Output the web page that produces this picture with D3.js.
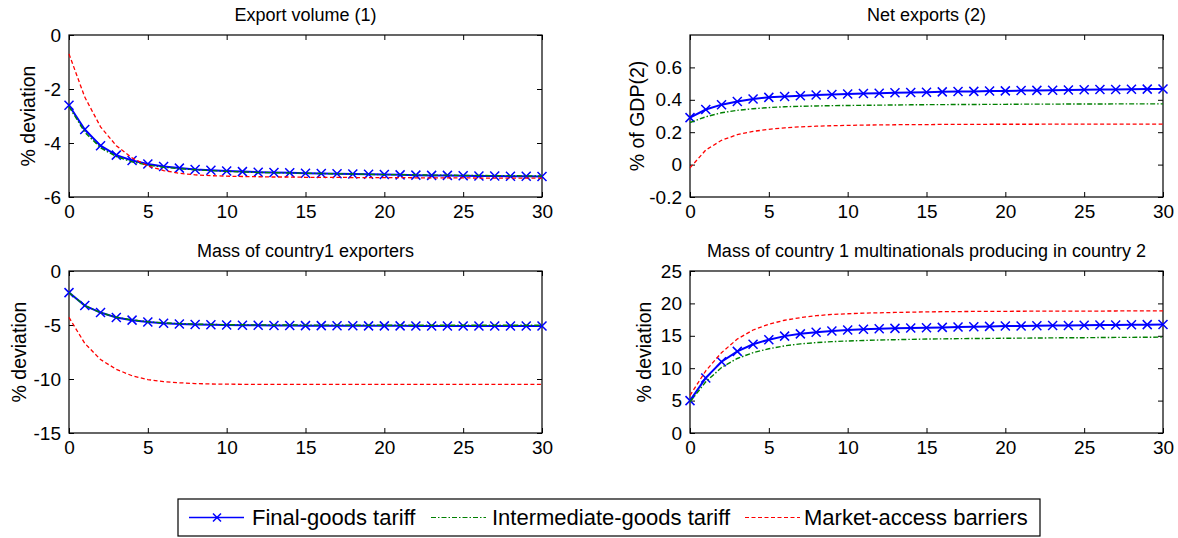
<!DOCTYPE html>
<html>
<head>
<meta charset="utf-8">
<script src="https://cdn.jsdelivr.net/npm/d3@7"></script>
<style>
    body { margin: 0; background: white; }
    text { font-family: "Liberation Sans", Arial, sans-serif; fill: black; }
</style>
</head>
<body>
<div class="chart"></div>
<script>
// periods after the shock
const periods = [0, 1, 2, 3, 4, 5, 6, 7, 8, 9, 10, 11, 12, 13, 14, 15,
    16, 17, 18, 19, 20, 21, 22, 23, 24, 25, 26, 27, 28, 29, 30];
const xTicks = [0, 5, 10, 15, 20, 25, 30];

const seriesNames = ['Final-goods tariff', 'Intermediate-goods tariff', 'Market-access barriers'];

// export volume (1)
const exportFinal = [-2.6, -3.5, -4.1, -4.45, -4.65, -4.78, -4.87, -4.93, -4.98, -5.01, -5.04,
    -5.06, -5.08, -5.09, -5.1, -5.12, -5.13, -5.14, -5.15, -5.16, -5.17,
    -5.18, -5.19, -5.2, -5.2, -5.21, -5.22, -5.22, -5.23, -5.23, -5.24];
const exportInter = [-2.65, -3.6, -4.18, -4.5, -4.7, -4.82, -4.9, -4.95, -4.99, -5.02, -5.05,
    -5.07, -5.09, -5.1, -5.11, -5.12, -5.13, -5.14, -5.15, -5.16, -5.17,
    -5.17, -5.18, -5.19, -5.19, -5.2, -5.2, -5.21, -5.21, -5.22, -5.22];
const exportMarket = [-0.7, -2.3, -3.4, -4.1, -4.55, -4.85, -5.02, -5.12, -5.18, -5.21, -5.23,
    -5.24, -5.25, -5.26, -5.26, -5.27, -5.27, -5.27, -5.28, -5.28, -5.28,
    -5.28, -5.29, -5.29, -5.29, -5.29, -5.3, -5.3, -5.3, -5.3, -5.3];
const exportTicks = [-6, -4, -2, 0];

// net exports (2)
const netFinal = [0.29, 0.34, 0.37, 0.39, 0.405, 0.415, 0.42, 0.425, 0.43, 0.433, 0.436,
    0.439, 0.441, 0.443, 0.445, 0.447, 0.449, 0.451, 0.452, 0.454, 0.455,
    0.457, 0.458, 0.459, 0.461, 0.462, 0.463, 0.464, 0.465, 0.466, 0.467];
const netInter = [0.26, 0.295, 0.32, 0.335, 0.345, 0.352, 0.357, 0.36, 0.362, 0.364, 0.365,
    0.366, 0.367, 0.368, 0.369, 0.37, 0.37, 0.371, 0.371, 0.372, 0.372,
    0.373, 0.373, 0.373, 0.374, 0.374, 0.374, 0.375, 0.375, 0.375, 0.375];
const netMarket = [-0.02, 0.09, 0.15, 0.185, 0.205, 0.218, 0.227, 0.233, 0.237, 0.24, 0.242,
    0.244, 0.245, 0.246, 0.247, 0.247, 0.248, 0.248, 0.248, 0.249, 0.249,
    0.249, 0.249, 0.25, 0.25, 0.25, 0.25, 0.25, 0.25, 0.25, 0.25];
const netTicks = [-0.2, 0, 0.2, 0.4, 0.6];

// mass of country 1 exporters
const exportersFinal = [-2.0, -3.2, -3.85, -4.3, -4.55, -4.72, -4.83, -4.9, -4.95, -4.98, -5.0,
    -5.02, -5.03, -5.04, -5.05, -5.06, -5.06, -5.07, -5.07, -5.08, -5.08,
    -5.08, -5.09, -5.09, -5.09, -5.09, -5.1, -5.1, -5.1, -5.1, -5.1];
const exportersInter = [-2.0, -3.2, -3.85, -4.28, -4.53, -4.7, -4.8, -4.87, -4.92, -4.95, -4.97,
    -4.98, -4.99, -5.0, -5.0, -5.01, -5.01, -5.01, -5.02, -5.02, -5.02,
    -5.02, -5.02, -5.03, -5.03, -5.03, -5.03, -5.03, -5.03, -5.03, -5.03];
const exportersMarket = [-4.3, -6.7, -8.2, -9.1, -9.7, -10.05, -10.25, -10.35, -10.42, -10.46, -10.48,
    -10.49, -10.5, -10.5, -10.5, -10.5, -10.5, -10.5, -10.5, -10.5, -10.5,
    -10.5, -10.5, -10.5, -10.5, -10.5, -10.5, -10.5, -10.5, -10.5, -10.5];
const exportersTicks = [-15, -10, -5, 0];

// mass of country 1 multinationals producing in country 2
const multiFinal = [5.0, 8.5, 11.0, 12.6, 13.7, 14.4, 14.95, 15.3, 15.55, 15.75, 15.9,
    16.0, 16.1, 16.15, 16.2, 16.25, 16.3, 16.35, 16.4, 16.45, 16.5,
    16.52, 16.55, 16.58, 16.6, 16.63, 16.66, 16.68, 16.7, 16.72, 16.75];
const multiInter = [4.8, 7.9, 10.1, 11.5, 12.4, 13.0, 13.45, 13.75, 13.95, 14.1, 14.2,
    14.28, 14.35, 14.4, 14.45, 14.5, 14.53, 14.56, 14.58, 14.6, 14.62,
    14.64, 14.66, 14.68, 14.7, 14.71, 14.73, 14.75, 14.76, 14.78, 14.8];
const multiMarket = [5.8, 9.6, 12.4, 14.5, 15.9, 16.8, 17.4, 17.8, 18.1, 18.3, 18.4,
    18.5, 18.55, 18.6, 18.65, 18.7, 18.72, 18.74, 18.76, 18.77, 18.78,
    18.79, 18.8, 18.8, 18.81, 18.82, 18.82, 18.83, 18.84, 18.84, 18.85];
const multiTicks = [0, 5, 10, 15, 20, 25];

const styles = [
    { color: '#0000ff', width: 2, dash: null, marker: true },
    { color: '#008000', width: 1.4, dash: '5,2,1.5,2' },
    { color: '#ff0000', width: 1.3, dash: '4,2.5' }
];

const panels = [
    { title: 'Export volume (1)', ylabel: '% deviation', series: [exportFinal, exportInter, exportMarket],
        yDomain: [-6, 0], yTicks: exportTicks, x: 69, y: 35, labelX: 28 },
    { title: 'Net exports (2)', ylabel: '% of GDP(2)', series: [netFinal, netInter, netMarket],
        yDomain: [-0.2, 0.8], yTicks: netTicks, x: 690, y: 35, labelX: 637 },
    { title: 'Mass of country1 exporters', ylabel: '% deviation', series: [exportersFinal, exportersInter, exportersMarket],
        yDomain: [-15, 0], yTicks: exportersTicks, x: 69, y: 271, labelX: 19 },
    { title: 'Mass of country 1 multinationals producing in country 2', ylabel: '% deviation',
        series: [multiFinal, multiInter, multiMarket],
        yDomain: [0, 25], yTicks: multiTicks, x: 690, y: 271, labelX: 644 }
];

const width = 473, height = 162, tickLen = 5;

const svg = d3.select('.chart')
    .append('svg')
        .attr('width', 1178)
        .attr('height', 538)

const drawX = (g, cx, cy, s) => {
    g.append('path')
        .attr('d', `M${cx - s},${cy - s}L${cx + s},${cy + s}M${cx - s},${cy + s}L${cx + s},${cy - s}`)
        .style('stroke', styles[0].color)
        .style('stroke-width', 1.5)
        .style('fill', 'none')
}

panels.forEach((p, pi) => {
    const x = d3.scaleLinear().domain([0, 30]).range([0, width]);
    const y = d3.scaleLinear().domain(p.yDomain).range([height, 0]);

    const g = svg.append('g')
        .attr('transform', `translate(${p.x}, ${p.y})`)

    g.append('clipPath')
            .attr('id', `clip${pi}`)
        .append('rect')
            .attr('x', -6)
            .attr('y', 0)
            .attr('width', width + 12)
            .attr('height', height)

    //axes with inward ticks on all four sides
    const bottom = g.append('g')
        .attr('transform', `translate(0, ${height})`)
        .call(d3.axisBottom(x).tickValues(xTicks).tickSize(-tickLen).tickPadding(8));
    const top = g.append('g')
        .call(d3.axisTop(x).tickValues(xTicks).tickSize(-tickLen).tickFormat(''));
    const left = g.append('g')
        .call(d3.axisLeft(y).tickValues(p.yTicks).tickSize(-tickLen).tickPadding(8)
            .tickFormat(d3.format('~g')));
    const right = g.append('g')
        .attr('transform', `translate(${width}, 0)`)
        .call(d3.axisRight(y).tickValues(p.yTicks).tickSize(-tickLen).tickFormat(''));

    [bottom, top, left, right].forEach((a) => {
        a.select('.domain').remove();
        a.selectAll('line').style('stroke', 'black').style('stroke-width', 1);
        a.selectAll('text')
            .style('font-size', '19px')
            .style('font-family', '"Liberation Sans", Arial, sans-serif');
    });
    left.selectAll('text').text((d) => d3.format('~g')(d).replace('−', '-'));

    g.append('rect')
        .attr('x', 0)
        .attr('y', 0)
        .attr('width', width)
        .attr('height', height)
        .style('fill', 'none')
        .style('stroke', 'black')
        .style('stroke-width', 1.2)

    //series lines
    const line = d3.line()
        .x((d, i) => x(periods[i]))
        .y((d) => y(d));

    const plot = g.append('g').attr('clip-path', `url(#clip${pi})`);

    p.series.forEach((s, si) => {
        const st = styles[si];
        plot.append('path')
            .datum(s)
            .attr('d', line)
            .style('fill', 'none')
            .style('stroke', st.color)
            .style('stroke-width', st.width)
            .style('stroke-dasharray', st.dash)
        if (st.marker) {
            s.forEach((v, i) => drawX(plot, x(periods[i]), y(v), 4.5));
        }
    });

    g.append('text')
        .attr('x', width / 2)
        .attr('y', -14)
        .attr('text-anchor', 'middle')
        .style('font-size', '18px')
        .text(p.title)

    svg.append('text')
        .attr('transform', `translate(${p.labelX}, ${p.y + height / 2}) rotate(-90)`)
        .attr('text-anchor', 'middle')
        .attr('dy', '0.35em')
        .style('font-size', '19.5px')
        .text(p.ylabel)
});

//legend
const legend = svg.append('g')
    .attr('transform', 'translate(178, 499)')

legend.append('rect')
    .attr('x', 0)
    .attr('y', 0)
    .attr('width', 862)
    .attr('height', 37)
    .style('fill', 'white')
    .style('stroke', 'black')
    .style('stroke-width', 1.2)

const legendX = [11, 253, 567];
seriesNames.forEach((name, i) => {
    const st = styles[i];
    const item = legend.append('g').attr('transform', `translate(${legendX[i]}, 18.5)`);
    item.append('line')
        .attr('x1', 0)
        .attr('x2', 55)
        .style('stroke', st.color)
        .style('stroke-width', i === 0 ? 1.5 : 1.2)
        .style('stroke-dasharray', st.dash)
    if (st.marker) drawX(item, 28, 0, 4);
    item.append('text')
        .attr('x', i === 0 ? 63 : (i === 1 ? 61 : 59))
        .attr('dy', '0.36em')
        .style('font-size', '22px')
        .text(name)
});
</script>
</body>
</html>
